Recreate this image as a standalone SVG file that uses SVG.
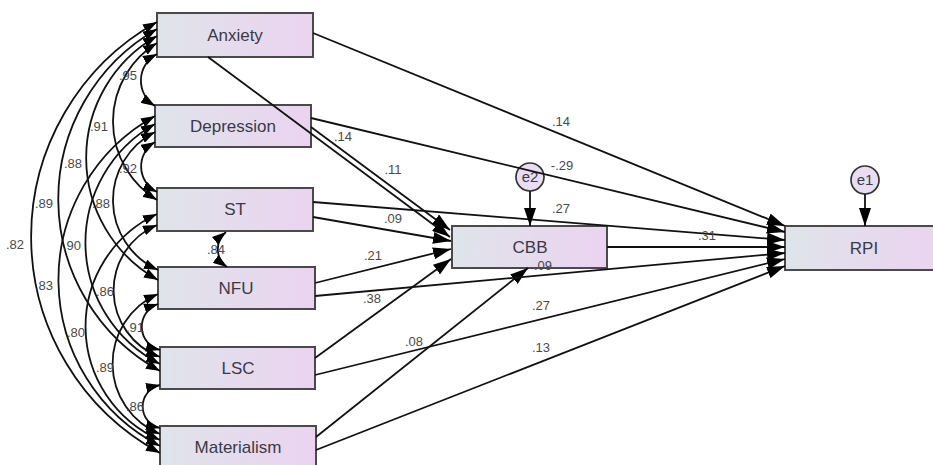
<svg xmlns="http://www.w3.org/2000/svg" width="933" height="465" viewBox="0 0 933 465">
<defs>
<linearGradient id="nodeFill" x1="0" y1="0" x2="1" y2="0">
<stop offset="0" stop-color="#dfe4ea"/>
<stop offset="1" stop-color="#ebd3f0"/>
</linearGradient>
<marker id="ah" viewBox="0 0 18 12" refX="18" refY="6" markerWidth="18" markerHeight="12" markerUnits="userSpaceOnUse" orient="auto">
<path d="M0,0 L18,6 L0,12 z" fill="#000"/>
</marker>
<marker id="ch" viewBox="0 0 14 10" refX="14" refY="5" markerWidth="14" markerHeight="10" markerUnits="userSpaceOnUse" orient="auto-start-reverse">
<path d="M0,0 L14,5 L0,10 z" fill="#000"/>
</marker>
</defs>
<style>
.box{fill:url(#nodeFill);stroke:#4a4a4a;stroke-width:2}
.err{fill:#e9def1;stroke:#333;stroke-width:1.7}
.nt{font-family:"Liberation Sans",Arial,sans-serif;font-size:17px;fill:#3a3a48;text-anchor:middle}
.et{font-family:"Liberation Sans",Arial,sans-serif;font-size:15px;fill:#3a3a48;text-anchor:middle}
.lb{font-family:"Liberation Sans",Arial,sans-serif;font-size:13px;fill:#4a4a4a;text-anchor:middle}
.p{stroke:#111;stroke-width:1.8;fill:none;marker-end:url(#ah)}
.c{stroke:#111;stroke-width:1.8;fill:none;marker-start:url(#ch);marker-end:url(#ch)}
</style>
<rect width="933" height="465" fill="#fff"/>

<g id="Anxiety"><rect class="box" x="157" y="13" width="156" height="44"/><text class="nt" x="235" y="41">Anxiety</text></g>
<g id="Depression"><rect class="box" x="155" y="105" width="156" height="42"/><text class="nt" x="233" y="132">Depression</text></g>
<g id="ST"><rect class="box" x="157" y="188" width="156" height="43"/><text class="nt" x="235" y="215">ST</text></g>
<g id="NFU"><rect class="box" x="158" y="267" width="157" height="42"/><text class="nt" x="236" y="294">NFU</text></g>
<g id="LSC"><rect class="box" x="160" y="347" width="155" height="42"/><text class="nt" x="238" y="374">LSC</text></g>
<g id="Materialism"><rect class="box" x="160" y="426" width="156" height="42"/><text class="nt" x="238" y="453">Materialism</text></g>
<g id="CBB"><rect class="box" x="452" y="226" width="155" height="42"/><text class="nt" x="530" y="253">CBB</text></g>
<g id="RPI"><rect class="box" x="785" y="226" width="156" height="44"/><text class="nt" x="864" y="254">RPI</text></g>
<g id="e2"><circle class="err" cx="530" cy="177" r="14"/><text class="et" x="530" y="182">e2</text></g>
<g id="e1"><circle class="err" cx="865" cy="180" r="14"/><text class="et" x="865" y="185">e1</text></g>

<g id="connectors">
<path class="c" d="M157,54 A30,30 0 0 0 155,106"/>
<path class="c" d="M157,43 A92,92 0 0 0 157,200"/>
<path class="c" d="M157,36 A140,140 0 0 0 158,280"/>
<path class="c" d="M157,29 A196,196 0 0 0 160,371"/>
<path class="c" d="M157,22 A246,246 0 0 0 160,453"/>
<path class="c" d="M155,142 A28.5,28.5 0 0 0 157,192"/>
<path class="c" d="M155,132 A76.5,76.5 0 0 0 158,270"/>
<path class="c" d="M155,124 A136,136 0 0 0 160,364"/>
<path class="c" d="M155,116 A187,187 0 0 0 160,446"/>
<path class="c" d="M226,232 A22,22 0 0 0 227,267"/>
<path class="c" d="M157,225 A71,71 0 0 0 160,357"/>
<path class="c" d="M157,214 A124,124 0 0 0 160,440"/>
<path class="c" d="M158,304 A24,24 0 0 0 160,350"/>
<path class="c" d="M158,294 A76,76 0 0 0 160,434"/>
<path class="c" d="M160,385 A22,22 0 0 0 160,428"/>
<line class="p" x1="208" y1="57" x2="450" y2="237"/>
<line class="p" x1="311" y1="127" x2="450" y2="230"/>
<line class="p" x1="313" y1="217" x2="451" y2="241"/>
<line class="p" x1="315" y1="283" x2="451" y2="249"/>
<line class="p" x1="315" y1="358" x2="451" y2="259"/>
<line class="p" x1="316" y1="437" x2="528" y2="268"/>
<line class="p" x1="313" y1="33" x2="785" y2="226"/>
<line class="p" x1="311" y1="118" x2="785" y2="232"/>
<line class="p" x1="313" y1="202" x2="785" y2="240"/>
<line class="p" x1="607" y1="247" x2="785" y2="247"/>
<line class="p" x1="315" y1="296" x2="785" y2="253"/>
<line class="p" x1="315" y1="375" x2="785" y2="259"/>
<line class="p" x1="316" y1="450" x2="785" y2="266"/>
<line class="p" x1="530" y1="191" x2="530" y2="226"/>
<line class="p" x1="865" y1="194" x2="865" y2="226"/>
</g>

<g id="labels">
<text class="lb" x="128" y="80">.95</text>
<text class="lb" x="99" y="131">.91</text>
<text class="lb" x="73" y="168">.88</text>
<text class="lb" x="128" y="173">.92</text>
<text class="lb" x="44" y="208">.89</text>
<text class="lb" x="101" y="208">.88</text>
<text class="lb" x="15" y="249">.82</text>
<text class="lb" x="72" y="250">.90</text>
<text class="lb" x="44" y="290">.83</text>
<text class="lb" x="105" y="296">.86</text>
<text class="lb" x="76" y="337">.80</text>
<text class="lb" x="135" y="332">.91</text>
<text class="lb" x="105" y="372">.89</text>
<text class="lb" x="135" y="411">.86</text>
<text class="lb" x="216" y="254">.84</text>
<text class="lb" x="561" y="126">.14</text>
<text class="lb" x="343" y="141">.14</text>
<text class="lb" x="393" y="174">.11</text>
<text class="lb" x="562" y="170">-.29</text>
<text class="lb" x="561" y="213">.27</text>
<text class="lb" x="393" y="223">.09</text>
<text class="lb" x="707" y="240">.31</text>
<text class="lb" x="373" y="260">.21</text>
<text class="lb" x="543" y="270">.09</text>
<text class="lb" x="372" y="303">.38</text>
<text class="lb" x="541" y="310">.27</text>
<text class="lb" x="414" y="346">.08</text>
<text class="lb" x="541" y="352">.13</text>
</g>
</svg>
